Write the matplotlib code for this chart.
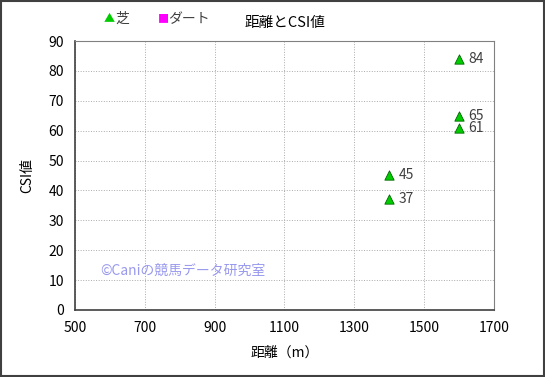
import matplotlib.pyplot as plt

plt.rcParams['font.family'] = ['Noto Sans CJK JP', 'DejaVu Sans']

# --- données ---
turf_distance = [1400, 1400, 1600, 1600, 1600]
turf_csi = [45, 37, 84, 65, 61]
dirt_distance = []
dirt_csi = []

x_ticks = [500, 700, 900, 1100, 1300, 1500, 1700]
y_ticks = [0, 10, 20, 30, 40, 50, 60, 70, 80, 90]

fig = plt.figure(figsize=(5.45, 3.77), dpi=100)
ax = fig.add_axes([0.138, 0.178, 0.768, 0.713])

ax.scatter(turf_distance, turf_csi, marker='^', s=45, color='#00cc00',
           edgecolors='#006600', linewidths=0.6, zorder=3, clip_on=False)
ax.scatter(dirt_distance, dirt_csi, marker='s', s=40, color='#ff00ff', zorder=3)

for x, y in zip(turf_distance, turf_csi):
    ax.annotate(str(y), (x, y), xytext=(7, 0), textcoords='offset points',
                va='center', ha='left', fontsize=10, color='#404040')

ax.set_xlim(500, 1700)
ax.set_ylim(0, 90)
ax.set_xticks(x_ticks)
ax.set_yticks(y_ticks)
ax.tick_params(length=0, labelsize=10, pad=8)
ax.grid(True, linestyle=':', color='#aaaaaa', linewidth=0.7)
for side in ['left', 'bottom']:
    ax.spines[side].set_color('#404040')
    ax.spines[side].set_linewidth(1.2)
for side in ['top', 'right']:
    ax.spines[side].set_color('#808080')

ax.set_xlabel('距離（m）', fontsize=10, labelpad=8)
ax.set_ylabel('CSI値', fontsize=10, labelpad=10)

# watermark
ax.text(572, 13, '©Caniの競馬データ研究室', color='#9999ee', fontsize=10,
        va='center', ha='left')

# titre + légende
fig.text(0.523, 0.94, '距離とCSI値', ha='center', va='center', fontsize=10.5)
fig.text(0.19, 0.95, '▲', color='#00cc00', ha='left', va='center', fontsize=8)
fig.text(0.212, 0.95, '芝', color='#404040', ha='left', va='center', fontsize=10)
fig.text(0.29, 0.95, '■', color='#ff00ff', ha='left', va='center', fontsize=8)
fig.text(0.308, 0.95, 'ダート', color='#404040', ha='left', va='center', fontsize=10)

# cadre de la figure
fig.patches.append(plt.Rectangle((0.002, 0.003), 0.996, 0.994, transform=fig.transFigure,
                                 fill=False, edgecolor='#404040', linewidth=1.5))

fig.savefig('out.png', dpi=100)
